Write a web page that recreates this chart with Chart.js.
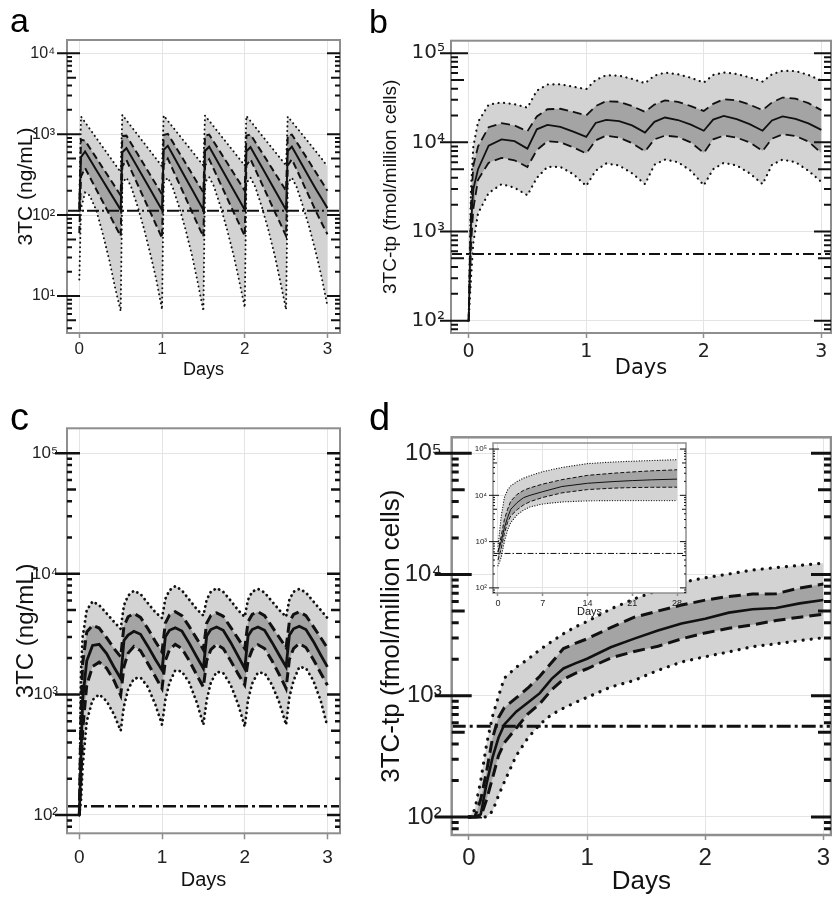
<!DOCTYPE html>
<html>
<head>
<meta charset="utf-8">
<script src="https://cdn.jsdelivr.net/npm/chart.js@4.4.1/dist/chart.umd.min.js"></script>
<style>
html, body { margin: 0; padding: 0; background: #fff; overflow: hidden; }
#wrap { position: relative; width: 832px; height: 897px; overflow: hidden; }
canvas { position: absolute; }
.tag { position: absolute; font-family: 'Liberation Sans', Arial, sans-serif; line-height: 1; color: #000; }
</style>
</head>
<body>
<div id="wrap">
  <canvas id="chartA"></canvas>
  <canvas id="chartB"></canvas>
  <canvas id="chartC"></canvas>
  <canvas id="chartD"></canvas>
  <canvas id="chartInset"></canvas>
  <div class="tag" style="left:10px;top:3px;font-size:34px">a</div>
  <div class="tag" style="left:369px;top:4px;font-size:34px">b</div>
  <div class="tag" style="left:10px;top:398px;font-size:38px">c</div>
  <div class="tag" style="left:369px;top:398px;font-size:38px">d</div>
</div>
<script>
// Panel a: 3TC plasma, twice daily dosing
var timesA = [0,
  0.02, 0.07, 0.125, 0.205, 0.285, 0.365, 0.43, 0.5,
  0.52, 0.57, 0.625, 0.705, 0.785, 0.865, 0.93, 1.0,
  1.02, 1.07, 1.125, 1.205, 1.285, 1.365, 1.43, 1.5,
  1.52, 1.57, 1.625, 1.705, 1.785, 1.865, 1.93, 2.0,
  2.02, 2.07, 2.125, 2.205, 2.285, 2.365, 2.43, 2.5,
  2.52, 2.57, 2.625, 2.705, 2.785, 2.865, 2.93, 3.0];
var medianA = [110,
  520, 611, 494, 362, 266, 195, 152, 116,
  600, 671, 536, 387, 279, 201, 154, 116,
  640, 718, 568, 404, 288, 206, 156, 116,
  620, 700, 556, 398, 285, 204, 156, 116,
  615, 690, 550, 395, 283, 203, 155, 116,
  620, 700, 556, 398, 285, 206, 160, 122];
var p75A = [120,
  860, 830, 680, 510, 381, 286, 226, 175,
  950, 960, 774, 568, 416, 305, 237, 180,
  980, 1010, 815, 597, 438, 321, 249, 190,
  960, 990, 807, 600, 446, 331, 260, 200,
  960, 990, 807, 600, 446, 331, 260, 200,
  960, 990, 807, 600, 446, 331, 260, 200];
var p25A = [60,
  300, 380, 297, 207, 145, 101, 75, 55,
  400, 480, 361, 239, 158, 105, 75, 52,
  420, 500, 376, 248, 164, 108, 77, 54,
  410, 490, 371, 247, 164, 109, 79, 55,
  410, 490, 371, 247, 164, 109, 79, 55,
  410, 490, 371, 247, 164, 109, 80, 58];
var p95A = [140,
  1650, 1400, 1167, 897, 689, 530, 428, 340,
  1730, 1486, 1256, 985, 772, 605, 496, 400,
  1700, 1465, 1245, 982, 775, 612, 505, 410,
  1700, 1465, 1245, 982, 775, 612, 505, 410,
  1680, 1450, 1235, 975, 770, 610, 505, 410,
  1650, 1430, 1220, 965, 765, 605, 500, 400];
var p5A = [16,
  120, 190, 175, 115, 58, 27, 13, 6.5,
  250, 290, 226, 128, 66, 31, 16, 6.8,
  250, 290, 226, 128, 66, 31, 15, 6.5,
  255, 295, 230, 130, 67, 32, 16, 7.2,
  250, 290, 226, 128, 66, 31, 15, 6.8,
  250, 290, 226, 128, 68, 33, 17, 7.5];
var thresholdA = 113;

// Panel b: 3TC-tp intracellular, twice daily
var timesB = [0, 0.02, 0.04, 0.08, 0.17, 0.28, 0.39, 0.5,
  0.58, 0.67, 0.78, 0.89, 1.0,
  1.08, 1.17, 1.28, 1.39, 1.5,
  1.58, 1.67, 1.78, 1.89, 2.0,
  2.08, 2.17, 2.28, 2.39, 2.5,
  2.58, 2.67, 2.78, 2.89, 3.0];
var medianB = [100, 1200, 3000, 5000, 9200, 10800, 10300, 8500,
  14000, 15700, 14900, 13200, 11500,
  16500, 17900, 17300, 15500, 12900,
  17000, 19000, 17800, 15800, 13500,
  18000, 19800, 18200, 16000, 13500,
  17600, 19500, 18300, 16300, 13800];
var p75B = [100, 2000, 5500, 9000, 14800, 16400, 15500, 13300,
  19500, 23500, 23800, 22000, 20000,
  25500, 29000, 28500, 25500, 22000,
  26500, 29500, 28500, 25500, 22500,
  27000, 30500, 29500, 26500, 23000,
  28000, 31800, 31000, 27500, 23000];
var p25B = [100, 700, 1800, 3800, 5900, 6700, 6300, 5300,
  8200, 10300, 10000, 8800, 7500,
  10500, 11900, 11300, 9800, 7900,
  10800, 11900, 11500, 10000, 7600,
  10800, 11900, 11300, 10000, 8000,
  11000, 12300, 11800, 10200, 7600];
var p95B = [100, 3000, 9000, 17000, 26500, 28000, 26800, 24500,
  38000, 44500, 44800, 42000, 39500,
  50000, 56500, 56000, 51500, 46000,
  56000, 60500, 58000, 53000, 46800,
  57000, 60700, 58500, 53500, 48000,
  58000, 63500, 63000, 57000, 49300];
var p5B = [100, 300, 750, 1600, 2700, 3400, 3100, 2550,
  4000, 5300, 5300, 4400, 3250,
  4800, 5800, 5500, 4500, 3400,
  5600, 6400, 6000, 4800, 3300,
  5000, 5900, 5500, 4500, 3400,
  5600, 6400, 6000, 4800, 3600];
var thresholdB = 560;

// Panel c: 3TC plasma, once daily high dose profile
var timesC = [0, 0.02, 0.04, 0.09, 0.16, 0.24, 0.33, 0.42, 0.5,
  0.54, 0.59, 0.66, 0.74, 0.83, 0.92, 1.0,
  1.04, 1.09, 1.16, 1.24, 1.33, 1.42, 1.5,
  1.54, 1.59, 1.66, 1.74, 1.83, 1.92, 2.0,
  2.04, 2.09, 2.16, 2.24, 2.33, 2.42, 2.5,
  2.54, 2.59, 2.66, 2.74, 2.83, 2.92, 3.0];
var medianC = [100, 300, 900, 1900, 2550, 2600, 2180, 1680, 1355,
  2800, 3100, 3340, 3150, 2500, 1950, 1590,
  3000, 3400, 3570, 3350, 2650, 2050, 1640,
  3050, 3450, 3620, 3400, 2700, 2080, 1640,
  3050, 3450, 3620, 3400, 2700, 2100, 1690,
  3100, 3500, 3670, 3450, 2750, 2120, 1690];
var p75C = [100, 700, 1800, 3300, 3740, 3550, 2950, 2400, 2050,
  3700, 4400, 4700, 4350, 3500, 2750, 2250,
  3900, 4550, 4850, 4500, 3650, 2900, 2350,
  3900, 4500, 4750, 4450, 3600, 2900, 2400,
  4000, 4600, 4850, 4500, 3650, 2950, 2450,
  4000, 4600, 4850, 4500, 3650, 2950, 2420];
var p25C = [100, 200, 500, 1200, 1700, 1850, 1650, 1300, 980,
  1700, 2200, 2500, 2300, 1800, 1400, 1120,
  1900, 2350, 2600, 2400, 1900, 1450, 1150,
  1900, 2350, 2600, 2400, 1900, 1480, 1200,
  1900, 2350, 2580, 2400, 1900, 1450, 1120,
  1950, 2400, 2640, 2450, 1950, 1500, 1190];
var p95C = [100, 1500, 3000, 5000, 5900, 5500, 4700, 4000, 3500,
  5500, 6600, 7250, 6800, 5700, 4800, 4300,
  6200, 7300, 7900, 7300, 6100, 5100, 4500,
  6100, 7100, 7600, 7100, 6000, 5000, 4400,
  6100, 7100, 7500, 7000, 5900, 5000, 4400,
  6100, 7100, 7500, 7000, 5900, 5000, 4300];
var p5C = [100, 130, 250, 600, 900, 1000, 880, 680, 500,
  800, 1100, 1350, 1380, 1150, 820, 560,
  900, 1250, 1580, 1550, 1250, 860, 560,
  900, 1250, 1540, 1500, 1200, 830, 540,
  900, 1230, 1520, 1500, 1200, 850, 560,
  950, 1300, 1690, 1650, 1300, 880, 540];
var thresholdC = 118;

// Panel d: 3TC-tp intracellular, first 3 days
var timesD = [0, 0.05, 0.1, 0.15, 0.2, 0.25, 0.3, 0.4, 0.5, 0.6, 0.7, 0.8, 0.9, 1.0,
  1.2, 1.4, 1.6, 1.8, 2.0, 2.2, 2.4, 2.6, 2.8, 3.0];
var medianD = [100, 100, 105, 190, 310, 450, 580, 740, 880, 1050, 1380, 1680, 1850, 2020,
  2510, 2960, 3450, 3950, 4320, 4850, 5170, 5300, 5780, 6170];
var p75D = [100, 100, 140, 240, 450, 660, 800, 960, 1160, 1450, 1880, 2450, 2700, 2950,
  3650, 4450, 5000, 5600, 6150, 6600, 6900, 6950, 7750, 8350];
var p25D = [100, 100, 100, 140, 210, 320, 410, 540, 710, 860, 1120, 1370, 1530, 1670,
  2050, 2320, 2560, 2950, 3300, 3600, 3850, 4180, 4450, 4700];
var p95D = [100, 115, 200, 400, 680, 990, 1400, 1720, 2000, 2400, 2800, 3250, 3700, 4100,
  5200, 6300, 7400, 8600, 9400, 10100, 10900, 11400, 11900, 12400];
var p5D = [100, 100, 100, 100, 112, 150, 195, 320, 450, 580, 700, 790, 880, 970,
  1180, 1340, 1620, 1900, 2100, 2300, 2540, 2680, 2850, 3010];
var thresholdD = 560;

// Inset of d: 28 days
var timesIn = [0, 0.5, 1, 1.5, 2, 3, 4, 5, 7, 10, 14, 18, 21, 24, 28];
var medianIn = [600, 1000, 2000, 3300, 5000, 7000, 8900, 10000, 12000, 15500, 18200, 19800, 20800, 21600, 22400];
var p75In = [600, 1300, 3000, 5000, 7500, 10500, 12800, 14500, 17500, 21800, 27000, 30000, 32000, 33800, 35600];
var p25In = [400, 700, 1500, 2600, 3600, 4900, 6200, 7300, 9000, 11300, 13300, 14300, 14700, 14900, 15000];
var p95In = [800, 3500, 9000, 13000, 16000, 20000, 23500, 26500, 32500, 40000, 48500, 52500, 54500, 56500, 59000];
var p5In = [300, 450, 1000, 1800, 2600, 3800, 4800, 5600, 6500, 7200, 7600, 7700, 7700, 7700, 7700];
var thresholdIn = 555;

// ticks
var dayTicks = [0, 1, 2, 3];
var insetDayTicks = [0, 7, 14, 21, 28];
var yTicksA = [10, 100, 1000, 10000];
var yLabelsA = ['10¹', '10²', '10³', '10⁴'];
var yTicksTp = [100, 1000, 10000, 100000];
var yLabelsTp = ['10²', '10³', '10⁴', '10⁵'];

var LIGHT = '#d3d3d3';
var DARK = '#a4a4a4';
var SANS = "'Liberation Sans', Arial, sans-serif";
var WIDE = "'DejaVu Sans', 'Liberation Sans', sans-serif";

Chart.defaults.font.family = SANS;
Chart.defaults.color = '#222';

function pts(t, v) {
  return t.map(function (x, i) { return { x: x, y: v[i] }; });
}

// grey frame plus log ticks on both sides
var framePlugin = {
  id: 'frame',
  beforeDraw: function (chart, args, o) {
    if (!o.fillArea) return;
    var a = chart.chartArea, ctx = chart.ctx;
    ctx.save();
    ctx.fillStyle = '#fff';
    ctx.fillRect(a.left, a.top, a.right - a.left, a.bottom - a.top);
    ctx.restore();
  },
  afterDatasetsDraw: function (chart, args, o) {
    var ctx = chart.ctx, a = chart.chartArea, y = chart.scales.y;
    ctx.save();
    ctx.strokeStyle = '#8e8e8e';
    ctx.lineWidth = o.border;
    ctx.strokeRect(a.left, a.top, a.right - a.left, a.bottom - a.top);
    ctx.strokeStyle = '#111';
    ctx.lineWidth = o.width;
    ctx.beginPath();
    var e0 = Math.floor(Math.log10(y.min)), e1 = Math.ceil(Math.log10(y.max));
    for (var e = e0; e <= e1; e++) {
      for (var k = 1; k <= 9; k++) {
        var v = k * Math.pow(10, e);
        if (v < y.min || v > y.max) continue;
        var p = y.getPixelForValue(v);
        var len = k === 1 ? o.major : (k === 5 ? o.mid : o.minor);
        var out = k === 1 ? o.out : 0;
        ctx.moveTo(a.left - out, p); ctx.lineTo(a.left + len, p);
        ctx.moveTo(a.right - len, p); ctx.lineTo(a.right, p);
      }
    }
    ctx.stroke();
    ctx.restore();
  }
};

function bandSets(t, s, st, xr) {
  return [
    { data: [{ x: xr[0], y: s.thr }, { x: xr[1], y: s.thr }], borderColor: '#111', borderWidth: st.thrW, borderDash: st.dashDot, fill: false },
    { data: pts(t, s.med), borderColor: '#111', borderWidth: st.medW, fill: false },
    { data: pts(t, s.p75), borderColor: '#111', borderWidth: st.dashW, borderDash: st.dash, fill: '+1', backgroundColor: DARK },
    { data: pts(t, s.p25), borderColor: '#111', borderWidth: st.dashW, borderDash: st.dash, fill: false },
    { data: pts(t, s.p95), borderColor: '#111', borderWidth: st.dotW, borderDash: st.dot, borderCapStyle: 'round', fill: '+1', backgroundColor: LIGHT },
    { data: pts(t, s.p5), borderColor: '#111', borderWidth: st.dotW, borderDash: st.dot, borderCapStyle: 'round', fill: false }
  ];
}

function makePanel(id, c) {
  var cv = document.getElementById(id);
  var b = c.box, ar = c.area;
  cv.width = b.w; cv.height = b.h;
  cv.style.left = b.x + 'px'; cv.style.top = b.y + 'px';
  cv.style.width = b.w + 'px'; cv.style.height = b.h + 'px';
  var yW = ar.l - b.x;
  var xH = b.y + b.h - ar.b;
  return new Chart(cv, {
    type: 'line',
    data: { datasets: bandSets(c.t, c.s, c.st, c.xr) },
    options: {
      responsive: false,
      animation: false,
      events: [],
      layout: { padding: { left: 0, top: ar.t - b.y, right: b.x + b.w - ar.r, bottom: 0 } },
      elements: { point: { radius: 0 }, line: { tension: 0 } },
      plugins: {
        legend: { display: false },
        tooltip: { enabled: false },
        filler: { drawTime: 'beforeDatasetsDraw' },
        frame: c.frame
      },
      scales: {
        x: {
          type: 'linear', min: c.xr[0], max: c.xr[1],
          afterBuildTicks: function (s) { s.ticks = c.xTicks.map(function (v) { return { value: v }; }); },
          afterFit: function (s) { s.height = xH; },
          border: { display: false },
          grid: { color: '#e4e4e4', lineWidth: 1, drawTicks: true, tickLength: c.xt.len, tickColor: '#8e8e8e', tickWidth: 1.5 },
          ticks: { font: c.xt.font, padding: c.xt.pad, maxRotation: 0, autoSkip: false, color: '#222' },
          title: { display: true, text: 'Days', font: c.xTitle.font, padding: { top: c.xTitle.pad, bottom: c.xTitle.pad }, color: '#111' }
        },
        y: {
          type: 'logarithmic', min: c.yr[0], max: c.yr[1],
          afterBuildTicks: function (s) { s.ticks = c.yTicks.map(function (v) { return { value: v }; }); },
          afterFit: function (s) { s.width = yW; },
          border: { display: false },
          grid: { color: '#e4e4e4', lineWidth: 1, drawTicks: false },
          ticks: {
            font: c.yt.font, padding: c.yt.pad, autoSkip: false, color: '#222',
            callback: function (v) { var i = c.yTicks.indexOf(v); return i < 0 ? '' : c.yLabels[i]; }
          },
          title: c.yTitle ? { display: true, text: c.yTitle.text, font: c.yTitle.font, padding: { top: c.yTitle.pad, bottom: c.yTitle.pad }, color: '#111' } : { display: false }
        }
      }
    },
    plugins: [framePlugin]
  });
}

var ngTitle = '3TC (ng/mL)';
var tpTitle = '3TC-tp (fmol/million cells)';

makePanel('chartA', {
  box: { x: 0, y: 0, w: 346, h: 395 }, area: { l: 67, t: 40, r: 340, b: 333 },
  xr: [-0.149, 3.152], yr: [3.49, 14600],
  t: timesA, s: { med: medianA, p75: p75A, p25: p25A, p95: p95A, p5: p5A, thr: thresholdA },
  st: { medW: 2, dashW: 2, dash: [7, 4], dotW: 2, dot: [0.1, 4.5], thrW: 2, dashDot: [12, 3, 2, 3] },
  xTicks: dayTicks, yTicks: yTicksA, yLabels: yLabelsA,
  xt: { font: { family: SANS, size: 17 }, pad: 1, len: 5 },
  yt: { font: { family: SANS, size: 16 }, pad: 12 },
  xTitle: { font: { family: SANS, size: 18, lineHeight: 1.2 }, pad: 14.2 },
  yTitle: { text: ngTitle, font: { family: SANS, size: 21, lineHeight: 1.2 }, pad: 14 },
  frame: { major: 13, out: 10, mid: 9, minor: 5, width: 2, border: 2 }
});

makePanel('chartB', {
  box: { x: 370, y: 0, w: 470, h: 395 }, area: { l: 451, t: 40.7, r: 831, b: 333 },
  xr: [-0.15, 3.082], yr: [72.8, 138000],
  t: timesB, s: { med: medianB, p75: p75B, p25: p25B, p95: p95B, p5: p5B, thr: thresholdB },
  st: { medW: 1.8, dashW: 1.8, dash: [9, 5], dotW: 2.2, dot: [0.1, 5.5], thrW: 2, dashDot: [11, 4, 3, 4] },
  xTicks: dayTicks, yTicks: yTicksTp, yLabels: yLabelsTp,
  xt: { font: { family: WIDE, size: 19 }, pad: 2.3, len: 5 },
  yt: { font: { family: WIDE, size: 20 }, pad: 6 },
  xTitle: { font: { family: WIDE, size: 21, lineHeight: 1.2 }, pad: 13.4 },
  yTitle: { text: tpTitle, font: { family: SANS, size: 19, lineHeight: 1.2 }, pad: 9 },
  frame: { major: 17, out: 11, mid: 13, minor: 7, width: 2, border: 2 }
});

makePanel('chartC', {
  box: { x: 0, y: 395, w: 346, h: 502 }, area: { l: 67, t: 428.3, r: 340, b: 833.3 },
  xr: [-0.149, 3.152], yr: [70.5, 161000],
  t: timesC, s: { med: medianC, p75: p75C, p25: p25C, p95: p95C, p5: p5C, thr: thresholdC },
  st: { medW: 2.8, dashW: 3, dash: [10, 5], dotW: 2.8, dot: [0.1, 5], thrW: 2.5, dashDot: [13, 4, 3, 4] },
  xTicks: dayTicks, yTicks: yTicksTp, yLabels: yLabelsTp,
  xt: { font: { family: SANS, size: 19 }, pad: 7, len: 6 },
  yt: { font: { family: SANS, size: 17 }, pad: 9 },
  xTitle: { font: { family: SANS, size: 20, lineHeight: 1 }, pad: 7 },
  yTitle: { text: ngTitle, font: { family: SANS, size: 24, lineHeight: 1.2 }, pad: 12 },
  frame: { major: 13, out: 12, mid: 9, minor: 5, width: 2.5, border: 2 }
});

makePanel('chartD', {
  box: { x: 370, y: 395, w: 470, h: 502 }, area: { l: 451.7, t: 437.3, r: 831, b: 835 },
  xr: [-0.146, 3.065], yr: [71, 135600],
  t: timesD, s: { med: medianD, p75: p75D, p25: p25D, p95: p95D, p5: p5D, thr: thresholdD },
  st: { medW: 2.6, dashW: 3, dash: [12, 6], dotW: 3.2, dot: [0.1, 8], thrW: 3, dashDot: [14, 4, 3, 4] },
  xTicks: dayTicks, yTicks: yTicksTp, yLabels: yLabelsTp,
  xt: { font: { family: SANS, size: 24 }, pad: 4, len: 5 },
  yt: { font: { family: SANS, size: 24 }, pad: 10 },
  xTitle: { font: { family: SANS, size: 26, lineHeight: 1 }, pad: 2 },
  yTitle: { text: tpTitle, font: { family: SANS, size: 26, lineHeight: 1.2 }, pad: 6 },
  frame: { major: 20, out: 17, mid: 13, minor: 7, width: 3, border: 2.5 }
});

makePanel('chartInset', {
  box: { x: 455, y: 429, w: 237, h: 194 }, area: { l: 493, t: 443, r: 686, b: 593 },
  xr: [-0.78, 29.4], yr: [77.6, 135000],
  t: timesIn, s: { med: medianIn, p75: p75In, p25: p25In, p95: p95In, p5: p5In, thr: thresholdIn },
  st: { medW: 1, dashW: 1, dash: [4, 2], dotW: 1.2, dot: [0.1, 2.5], thrW: 1, dashDot: [6, 2, 1.5, 2] },
  xTicks: insetDayTicks, yTicks: yTicksTp, yLabels: yLabelsTp,
  xt: { font: { family: SANS, size: 9 }, pad: 2, len: 3 },
  yt: { font: { family: SANS, size: 8 }, pad: 6 },
  xTitle: { font: { family: SANS, size: 11, lineHeight: 1 }, pad: 5.5 },
  yTitle: null,
  frame: { major: 6, out: 4, mid: 4, minor: 2, width: 1, border: 1.5, fillArea: true }
});
</script>
</body>
</html>
